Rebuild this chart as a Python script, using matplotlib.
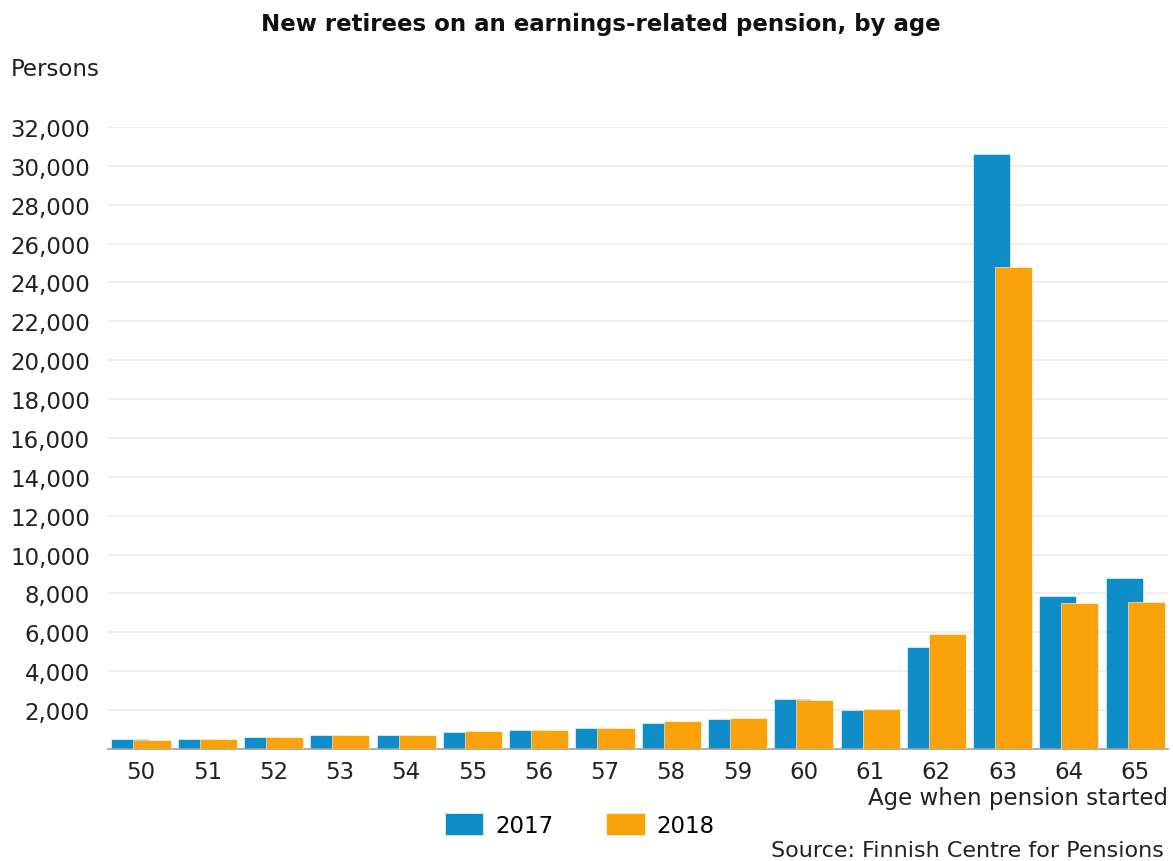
import matplotlib.pyplot as plt
import numpy as np
from matplotlib.ticker import FuncFormatter

ages = ['50', '51', '52', '53', '54', '55', '56', '57',
        '58', '59', '60', '61', '62', '63', '64', '65']
y2017 = [490, 500, 610, 710, 710, 880, 980, 1090,
         1350, 1540, 2550, 2020, 5250, 30600, 7860, 8770]
y2018 = [480, 490, 640, 710, 700, 930, 960, 1090,
         1430, 1600, 2530, 2030, 5910, 24800, 7520, 7570]

c2017 = '#0f8dc9'
c2018 = '#f9a20b'

fig = plt.figure(figsize=(11.73, 8.62), dpi=100)
ax = fig.add_axes([0.092, 0.130, 0.904, 0.7215])

x = np.arange(len(ages))
w = 0.56
ax.bar(x - 0.166, y2017, w, color=c2017, edgecolor='white', linewidth=0.4, label='2017', zorder=2)
ax.bar(x + 0.166, y2018, w, color=c2018, edgecolor='white', linewidth=0.4, label='2018', zorder=3)

ax.set_xlim(-0.5, len(ages) - 0.5)
ax.set_ylim(0, 32000)
ax.set_yticks(np.arange(2000, 32001, 2000))
ax.yaxis.set_major_formatter(FuncFormatter(lambda v, p: f'{int(v):,}'))
ax.set_xticks(x)
ax.set_xticklabels(ages)
ax.grid(axis='y', color='#ebebeb', linewidth=1.2, zorder=0)
for s in ['top', 'right', 'left']:
    ax.spines[s].set_visible(False)
ax.spines['bottom'].set_color('#a0a0a0')
ax.spines['bottom'].set_linewidth(1.2)
ax.tick_params(axis='both', length=0, labelsize=16.5, colors='#222222')
ax.tick_params(axis='y', pad=13)
ax.tick_params(axis='x', pad=8)

fig.text(0.512, 0.972, 'New retirees on an earnings-related pension, by age',
         ha='center', va='center', fontsize=16.5, fontweight='bold', color='#111111')
fig.text(0.009, 0.919, 'Persons', ha='left', va='center', fontsize=16.5, color='#222222')
fig.text(0.996, 0.074, 'Age when pension started', ha='right', va='center',
         fontsize=16.5, color='#222222')
fig.text(0.992, 0.013, 'Source: Finnish Centre for Pensions', ha='right', va='center',
         fontsize=16, color='#222222')

fig.legend(loc='center', bbox_to_anchor=(0.494, 0.042), ncol=2, frameon=False,
           fontsize=16.5, handlelength=1.7, handleheight=1.1, columnspacing=2.3,
           handletextpad=0.5)

fig.savefig('out.png', dpi=100)
